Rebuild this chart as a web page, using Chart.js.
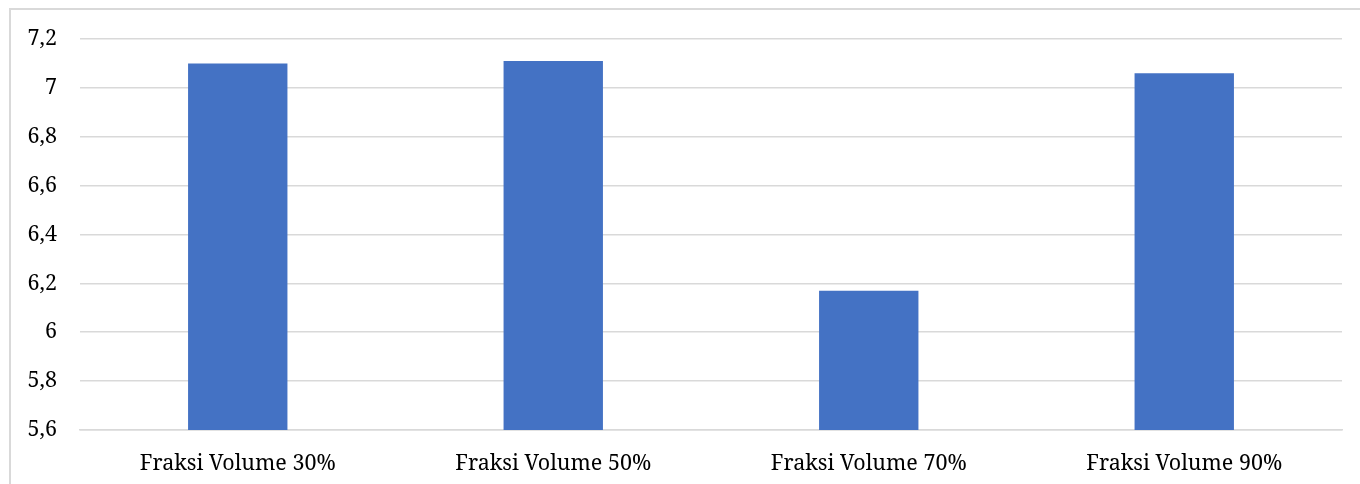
<!DOCTYPE html>
<html><head><meta charset="utf-8">
<script src="https://cdn.jsdelivr.net/npm/chart.js@4.4.1/dist/chart.umd.min.js"></script>
<style>
  html, body { margin: 0; padding: 0; background: #ffffff; }
  #wrap { width: 1360px; height: 484px; position: relative; }
</style>
</head><body>
<div id="wrap"><canvas id="chart" width="1360" height="484"></canvas></div>
<script>
// Categories and measured values
const categories = ['Fraksi Volume 30%', 'Fraksi Volume 50%', 'Fraksi Volume 70%', 'Fraksi Volume 90%'];
const values = [7.10, 7.11, 6.17, 7.06];

// Value axis ticks (comma as decimal separator)
const yTickValues = [5.6, 5.8, 6.0, 6.2, 6.4, 6.6, 6.8, 7.0, 7.2];
const yTickLabels = ['5,6', '5,8', '6', '6,2', '6,4', '6,6', '6,8', '7', '7,2'];

const FONT = '"Noto Serif", "DejaVu Serif", serif';

// Thin frame around the chart
const framePlugin = {
  id: 'frame',
  beforeDraw(chart) {
    const c = chart.ctx;
    c.save();
    c.strokeStyle = '#d9d9d9';
    c.lineWidth = 2;
    c.strokeRect(10, 9, 1400, 600);
    c.restore();
  }
};

new Chart(document.getElementById('chart'), {
  type: 'bar',
  data: {
    labels: categories,
    datasets: [{
      data: values,
      backgroundColor: '#4472c4',
      borderWidth: 0,
      categoryPercentage: 1.0,
      barPercentage: 0.315
    }]
  },
  options: {
    responsive: false,
    animation: false,
    devicePixelRatio: 1,
    layout: { autoPadding: false, padding: { top: 39, right: 18, bottom: 0, left: 0 } },
    plugins: { legend: { display: false }, tooltip: { enabled: false } },
    scales: {
      x: {
        grid: { display: false, drawTicks: false },
        border: { display: true, color: '#d9d9d9', width: 1.5 },
        ticks: {
          color: '#000000',
          font: { family: FONT, size: 21.5 },
          padding: 21,
          maxRotation: 0,
          autoSkip: false
        },
        afterFit(scale) { scale.height = 54; }
      },
      y: {
        min: 5.6,
        max: 7.2,
        grid: { color: '#d9d9d9', lineWidth: 1.5, drawTicks: false },
        border: { display: false },
        afterBuildTicks(scale) {
          scale.ticks = yTickValues.map(v => ({ value: v }));
        },
        ticks: {
          color: '#000000',
          font: { family: FONT, size: 21.5 },
          padding: 23,
          callback(value, index) { return yTickLabels[index]; }
        },
        afterFit(scale) { scale.width = 80; }
      }
    }
  },
  plugins: [framePlugin]
});
</script>
</body></html>
